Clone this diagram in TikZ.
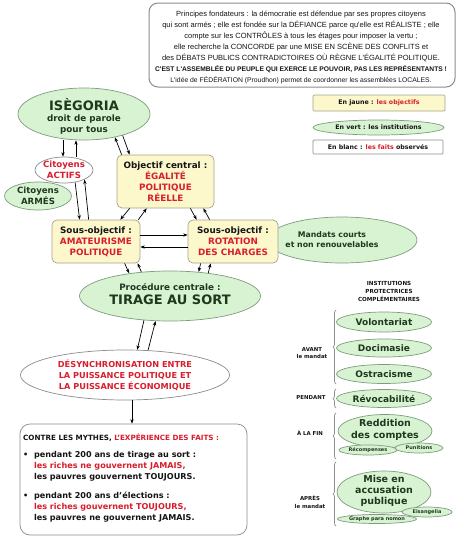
\documentclass[tikz,border=0pt]{standalone}
\usepackage{fontspec}
\setmainfont{DejaVu Sans}
\newfontfamily\gothic{Liberation Sans}
\usetikzlibrary{shapes.geometric,arrows.meta,decorations.pathreplacing}
\definecolor{gfill}{HTML}{D8F3D2}
\definecolor{gdraw}{HTML}{7F9C7F}
\definecolor{yfill}{HTML}{FCF8CC}
\definecolor{ydraw}{HTML}{A3A38C}
\definecolor{rtxt}{HTML}{D81E2C}
\definecolor{gtxt}{HTML}{1E381E}
\definecolor{btxt}{HTML}{151515}
\definecolor{frame}{HTML}{8C8C8C}
\tikzset{
  gell/.style={ellipse, draw=gdraw, fill=gfill, line width=0.7pt, inner sep=0pt},
  well/.style={ellipse, draw=frame, fill=white, line width=0.7pt, inner sep=0pt},
  ybox/.style={rectangle, rounded corners=5pt, draw=ydraw, fill=yfill, line width=0.7pt, inner sep=0pt},
  wbox/.style={rectangle, draw=frame, fill=white, line width=0.7pt, inner sep=0pt},
  txt/.style={inner sep=0pt, align=center, text=btxt, font=\bfseries\fontsize{8.8}{11}\selectfont},
  gtx/.style={txt, text=gtxt},
  rtx/.style={txt, text=rtxt},
  tiny/.style={inner sep=0pt, align=center, text=btxt, font=\bfseries\fontsize{5.4}{7.5}\selectfont},
  arr/.style={-{Stealth[length=4.5pt,width=3.4pt]}, line width=0.7pt, black},
  brk/.style={draw=frame, line width=0.7pt, decorate, decoration={brace, amplitude=3pt}}
}
\begin{document}
\begin{tikzpicture}[x=1pt,y=-1pt]
\useasboundingbox[fill=white] (0,0) rectangle (460,541);

% ---------- top principles box
\node[draw=frame, rounded corners=9pt, line width=1pt, minimum width=306pt, minimum height=84pt, inner sep=0pt] (topbox) at (302,45) {};
\node[inner sep=0pt, align=center, text=btxt, font=\gothic\fontsize{7.5}{11}\selectfont] (toptxt) at (301,47) {%
Principes fondateurs : la démocratie est défendue par ses propres citoyens\\
qui sont armés ; elle est fondée sur la DÉFIANCE parce qu'elle est RÉALISTE ; elle\\
compte sur les CONTRÔLES à tous les étages pour imposer la vertu ;\\
elle recherche la CONCORDE par une MISE EN SCÈNE DES CONFLITS et\\
des DÉBATS PUBLICS CONTRADICTOIRES OÙ RÈGNE L'ÉGALITÉ POLITIQUE.\\
{\bfseries\fontsize{6.7}{11}\selectfont C'EST L'ASSEMBLÉE DU PEUPLE QUI EXERCE LE POUVOIR, PAS LES REPRÉSENTANTS !}\\
{\fontsize{6.8}{11}\selectfont L'idée de FÉDÉRATION (Proudhon) permet de coordonner les assemblées LOCALES.}};

% ---------- legend
\node[ybox, rounded corners=1pt, minimum width=132pt, minimum height=16pt] (ljaune) at (379,103) {};
\node[tiny, font=\bfseries\fontsize{6.3}{8}\selectfont] at (ljaune) {En jaune : \textcolor{rtxt}{les objectifs}};
\node[gell, minimum width=131pt, minimum height=15pt] (lvert) at (378.5,127.5) {};
\node[tiny, font=\bfseries\fontsize{6.3}{8}\selectfont] at (lvert) {En vert : les institutions};
\node[wbox, rounded corners=1pt, minimum width=130pt, minimum height=14pt] (lblanc) at (378,147) {};
\node[tiny, font=\bfseries\fontsize{6.3}{8}\selectfont] at (lblanc) {En blanc : \textcolor{rtxt}{les faits} observés};

% ---------- main nodes
\node[gell, minimum width=132pt, minimum height=52pt] (iseg) at (84,114) {};
\node[gtx] at (84,116) {{\fontsize{13}{15}\selectfont ISÈGORIA}\\droit de parole\\pour tous};

\node[well, minimum width=58pt, minimum height=26pt] (actifs) at (64,170) {};
\node[rtx, font=\bfseries\fontsize{8.6}{10.5}\selectfont] at (actifs) {Citoyens\\ACTIFS};

\node[gell, minimum width=67pt, minimum height=28pt] (armes) at (38,196) {};
\node[gtx, font=\bfseries\fontsize{8.6}{10.5}\selectfont] at (armes) {Citoyens\\ARMÉS};

\node[ybox, minimum width=97pt, minimum height=53pt] (obj) at (165.5,181.5) {};
\node[txt] at (165.5,182) {Objectif central :\\\textcolor{rtxt}{ÉGALITÉ}\\\textcolor{rtxt}{POLITIQUE}\\\textcolor{rtxt}{RÉELLE}};

\node[gell, minimum width=150pt, minimum height=46pt] (mandats) at (342,240) {};
\node[gtx, font=\bfseries\fontsize{7.8}{10}\selectfont] at (332,240) {Mandats courts\\et non renouvelables};

\node[ybox, minimum width=88pt, minimum height=43pt] (amat) at (96,241.5) {};
\node[txt] at (amat) {Sous-objectif :\\\textcolor{rtxt}{AMATEURISME}\\\textcolor{rtxt}{POLITIQUE}};

\node[ybox, minimum width=90pt, minimum height=43pt] (rot) at (233,241.5) {};
\node[txt] at (rot) {Sous-objectif :\\\textcolor{rtxt}{ROTATION}\\\textcolor{rtxt}{DES CHARGES}};

\node[gell, minimum width=181pt, minimum height=50pt] (tirage) at (170,296) {};
\node[gtx, font=\bfseries\fontsize{8.8}{14}\selectfont] at (170,294) {Procédure centrale :\\{\fontsize{13}{14}\selectfont TIRAGE AU SORT}};

\node[well, minimum width=209pt, minimum height=50pt] (desync) at (125,375) {};
\node[rtx, font=\bfseries\fontsize{8.2}{11}\selectfont] at (desync) {DÉSYNCHRONISATION ENTRE\\LA PUISSANCE POLITIQUE ET\\LA PUISSANCE ÉCONOMIQUE};

\node[wbox, rounded corners=10pt, minimum width=227pt, minimum height=111pt] (faits) at (133.5,479.5) {};
\node[inner sep=0pt, anchor=west, text=btxt, font=\bfseries\fontsize{7.2}{8}\selectfont] (fhead) at (23,438) {CONTRE LES MYTHES, \textcolor{rtxt}{L'EXPÉRIENCE DES FAITS :}};
\node[inner sep=0pt, anchor=north west, align=left, text=btxt, font=\bfseries\fontsize{8.1}{11}\selectfont] (fb1) at (23,451.5) {%
\textbullet\ \ pendant 200 ans de tirage au sort :\\
\hphantom{\textbullet\ \ }\textcolor{rtxt}{les riches ne gouvernent JAMAIS,}\\
\hphantom{\textbullet\ \ }les pauvres gouvernent TOUJOURS.\\[8pt]
\textbullet\ \ pendant 200 ans d'élections :\\
\hphantom{\textbullet\ \ }\textcolor{rtxt}{les riches gouvernent TOUJOURS,}\\
\hphantom{\textbullet\ \ }les pauvres ne gouvernent JAMAIS.};

% ---------- right panel
\node[tiny, font=\bfseries\fontsize{5.6}{8}\selectfont] (instlab) at (389,291) {INSTITUTIONS\\PROTECTRICES\\COMPLÉMENTAIRES};

\node[gell, minimum width=95pt, minimum height=20pt] (vol) at (384,322) {};
\node[gtx, font=\bfseries\fontsize{9}{11}\selectfont] at (vol) {Volontariat};
\node[gell, minimum width=95pt, minimum height=18pt] (doci) at (384,348) {};
\node[gtx, font=\bfseries\fontsize{9}{11}\selectfont] at (doci) {Docimasie};
\node[gell, minimum width=95pt, minimum height=19pt] (ostr) at (384,374) {};
\node[gtx, font=\bfseries\fontsize{9}{11}\selectfont] at (ostr) {Ostracisme};
\node[gell, minimum width=95pt, minimum height=18pt] (revo) at (384,398.5) {};
\node[gtx, font=\bfseries\fontsize{9}{11}\selectfont] at (revo) {Révocabilité};

\node[gell, minimum width=94pt, minimum height=33pt] (redd) at (385,431) {};
\node[gtx, font=\bfseries\fontsize{9.5}{11.5}\selectfont] at (385,430) {Reddition\\des comptes};
\node[gell, minimum width=58pt, minimum height=10pt] (recomp) at (368,450) {};
\node[tiny, text=gtxt, font=\bfseries\fontsize{5}{6}\selectfont] at (recomp) {Récompenses};
\node[gell, minimum width=48pt, minimum height=10pt] (punit) at (419,448) {};
\node[tiny, text=gtxt, font=\bfseries\fontsize{5}{6}\selectfont] at (punit) {Punitions};

\node[gell, minimum width=94pt, minimum height=42pt] (mise) at (384,492) {};
\node[gtx, font=\bfseries\fontsize{9.5}{11}\selectfont] at (384,491) {Mise en\\accusation\\publique};
\node[gell, minimum width=50pt, minimum height=10pt] (eisang) at (427,512) {};
\node[tiny, text=gtxt, font=\bfseries\fontsize{5}{6}\selectfont] at (eisang) {Eisangelia};
\node[gell, minimum width=79pt, minimum height=9pt] (graphe) at (377,519) {};
\node[tiny, text=gtxt, font=\bfseries\fontsize{5}{6}\selectfont] at (graphe) {Graphe para nomon};

% brackets and period labels
\coordinate (bavB) at (336,384); \coordinate (bavT) at (336,310);
\coordinate (bpeB) at (336,408); \coordinate (bpeT) at (336,389);
\coordinate (bfiB) at (336,459); \coordinate (bfiT) at (336,413);
\coordinate (bapB) at (336,526); \coordinate (bapT) at (336,462);
\draw[brk] (bavB) -- (bavT);
\draw[brk] (bpeB) -- (bpeT);
\draw[brk] (bfiB) -- (bfiT);
\draw[brk] (bapB) -- (bapT);
\node[tiny] (lavant) at (312,353) {AVANT\\le mandat};
\node[tiny] (lpend) at (311,398) {PENDANT};
\node[tiny] (lfin) at (310,433) {À LA FIN};
\node[tiny] (lapres) at (310,502) {APRÈS\\le mandat};

% ---------- connectors
\draw[arr] ([xshift=-21pt]iseg.south) -- ([xshift=-1pt]actifs.north);
\draw[arr] ([xshift=12pt]actifs.north) -- ([xshift=-8pt]iseg.south);
\draw[arr] ([xshift=5pt]obj.north west) -- (iseg.323);
\draw[arr] (iseg.331) -- ([xshift=13pt]obj.north west);
\draw[arr] (actifs.312) -- ([xshift=28pt]amat.north west);
\draw[arr] ([xshift=37pt]amat.north west) -- (actifs.335);
\draw[arr] ([xshift=13pt]obj.south west) -- ([xshift=-20pt]amat.north east);
\draw[arr] ([xshift=-2pt]amat.north east) -- ([xshift=30pt]obj.south west);
\draw[arr] ([xshift=-24pt]obj.south east) -- ([xshift=9pt]rot.north west);
\draw[arr] ([xshift=22pt]rot.north west) -- ([xshift=-11pt]obj.south east);
\draw[arr] ([yshift=6.5pt]amat.east) -- ([yshift=6.5pt]rot.west);
\draw[arr] ([yshift=-5.5pt]rot.west) -- ([yshift=-5.5pt]amat.east);
\draw[arr] ([xshift=73pt]amat.south west) -- (tirage.151);
\draw[arr] (tirage.140) -- ([xshift=86pt]amat.south west);
\draw[arr] ([xshift=13pt]rot.south west) -- (tirage.40);
\draw[arr] (tirage.31) -- ([xshift=23pt]rot.south west);
\draw[arr] (tirage.223) -- (desync.64);
\draw[arr] (desync.47) -- (tirage.240);
\draw[arr] ([xshift=7pt]desync.south) -- ([xshift=-1.5pt]faits.north);
\end{tikzpicture}
\end{document}
